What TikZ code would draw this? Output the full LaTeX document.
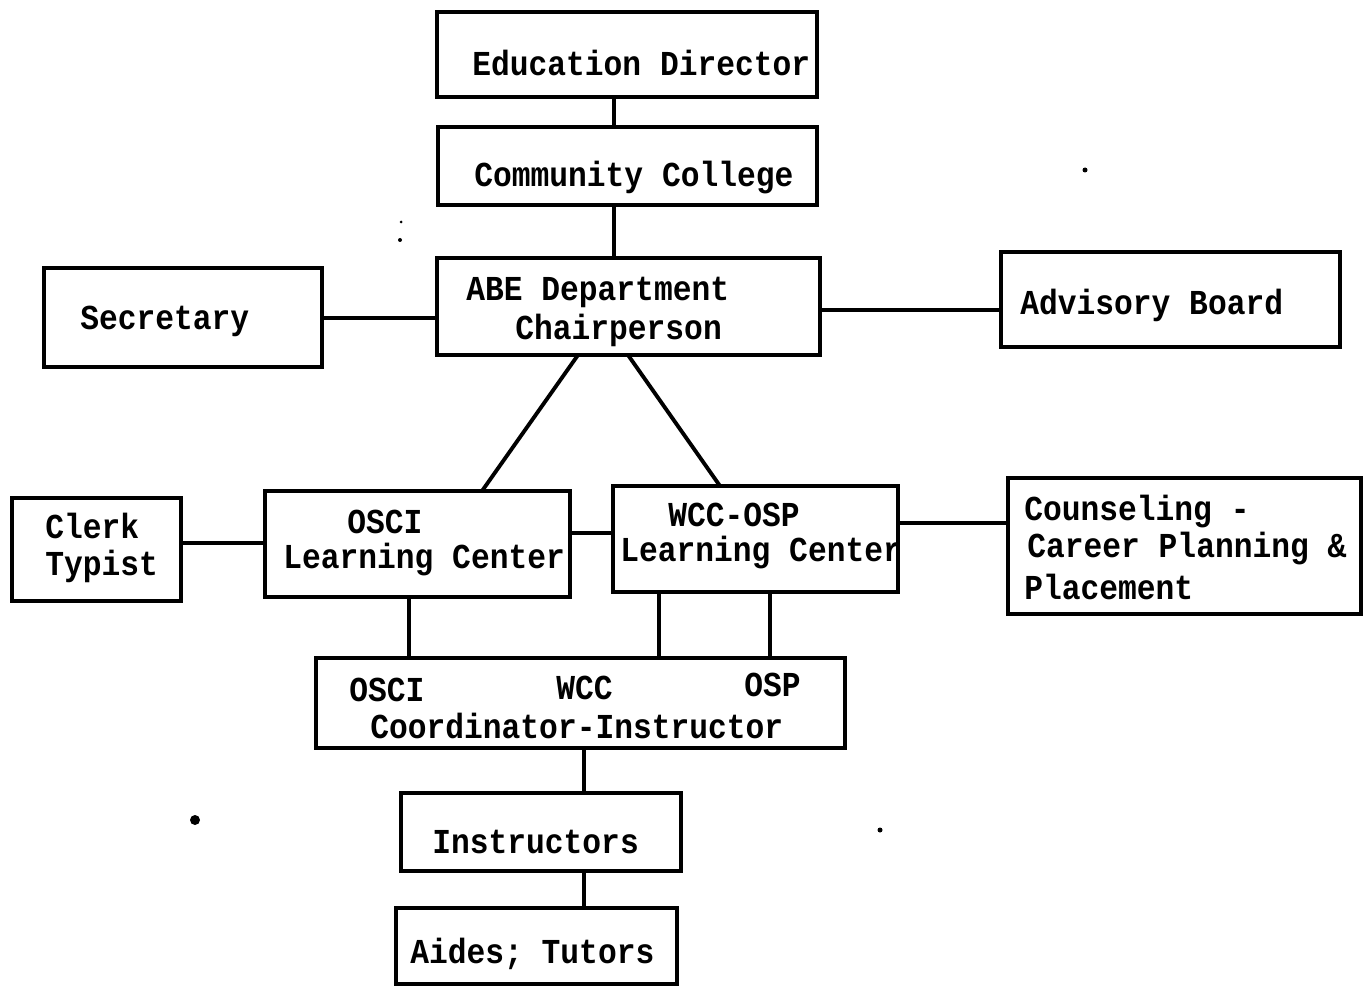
\documentclass[tikz,border=0pt]{standalone}
\usepackage{fontspec}
\usepackage{graphicx}
\setmonofont{Liberation Mono}
\usetikzlibrary{fit}
\newcommand{\tallT}[1]{\scalebox{1}[1.12]{#1}}
\begin{document}
\begin{tikzpicture}[x=0.02cm,y=-0.02cm,
  box/.style={draw, line width=2.2pt, inner sep=0pt},
  txt/.style={anchor=west, inner sep=0pt, font=\ttfamily\bfseries\fontsize{17.8}{20}\selectfont},
  link/.style={line width=2.2pt},
  speck/.style={fill=black, draw=none}]
\useasboundingbox (0,0) rectangle (1364,986);
% boxes
\node[box, fit={(437,12) (817,97)}] (ed) {};
\node[box, fit={(438,127) (817,205)}] (cc) {};
\node[box, fit={(437,258) (820,355)}] (abe) {};
\node[box, fit={(44,268) (322,367)}] (sec) {};
\node[box, fit={(1001,252) (1340,347)}] (adv) {};
\node[box, fit={(12,498) (181,601)}] (clerk) {};
\node[box, fit={(265,491) (570,597)}] (osci) {};
\node[box, fit={(613,486) (898,592)}] (wcc) {};
\node[box, fit={(1008,478) (1361,614)}] (couns) {};
\node[box, fit={(316,658) (845,748)}] (coord) {};
\node[box, fit={(401,793) (681,871)}] (instr) {};
\node[box, fit={(396,908) (677,984)}] (aides) {};
% texts
\node[txt] (edT) at (472,63) {\tallT{Education Director}};
\node[txt] (ccT) at (474,178) {\tallT{Community College}};
\node[txt] (abeT1) at (466,292) {\tallT{ABE Department}};
\node[txt] (abeT2) at (515,330) {\tallT{Chairperson}};
\node[txt] (secT) at (80,321) {\tallT{Secretary}};
\node[txt] (advT) at (1020,305) {\tallT{Advisory Board}};
\node[txt] (clerkT1) at (45,526) {\tallT{Clerk}};
\node[txt] (clerkT2) at (45,566) {\tallT{Typist}};
\node[txt] (osciT1) at (347,522) {\tallT{OSCI}};
\node[txt] (osciT2) at (283,560) {\tallT{Learning Center}};
\node[txt] (wccT1) at (668,515) {\tallT{WCC-OSP}};
\node[txt] (wccT2) at (620,553) {\tallT{Learning Center}};
\node[txt] (counsT1) at (1024,512) {\tallT{Counseling -}};
\node[txt] (counsT2) at (1027,549) {\tallT{Career Planning \&}};
\node[txt] (counsT3) at (1024,587) {\tallT{Placement}};
\node[txt] (coordT1) at (349,690) {\tallT{OSCI}};
\node[txt] (coordT2) at (556,688) {\tallT{WCC}};
\node[txt] (coordT3) at (744,685) {\tallT{OSP}};
\node[txt] (coordT4) at (370,726) {\tallT{Coordinator-Instructor}};
\node[txt] (instrT) at (432,842) {\tallT{Instructors}};
\node[txt] (aidesT) at (410,954) {\tallT{Aides; Tutors}};
% connectors
\coordinate (x614) at (614,0);
\coordinate (x584) at (584,0);
\coordinate (x409) at (409,0);
\coordinate (x659) at (659,0);
\coordinate (x770) at (770,0);
\coordinate (y318) at (0,318);
\coordinate (y310) at (0,310);
\coordinate (y543) at (0,543);
\coordinate (y533) at (0,533);
\coordinate (y523) at (0,523);
\draw[link] (ed.south -| x614) -- (cc.north -| x614);
\draw[link] (cc.south -| x614) -- (abe.north -| x614);
\draw[link] (sec.east |- y318) -- (abe.west |- y318);
\draw[link] (abe.east |- y310) -- (adv.west |- y310);
\coordinate (abeL) at (578,355);
\coordinate (abeR) at (628,355);
\coordinate (osciTop) at (482,491);
\coordinate (wccTop) at (720,486);
\draw[link] (abeL) -- (osciTop);
\draw[link] (abeR) -- (wccTop);
\draw[link] (clerk.east |- y543) -- (osci.west |- y543);
\draw[link] (osci.east |- y533) -- (wcc.west |- y533);
\draw[link] (wcc.east |- y523) -- (couns.west |- y523);
\draw[link] (osci.south -| x409) -- (coord.north -| x409);
\draw[link] (wcc.south -| x659) -- (coord.north -| x659);
\draw[link] (wcc.south -| x770) -- (coord.north -| x770);
\draw[link] (coord.south -| x584) -- (instr.north -| x584);
\draw[link] (instr.south -| x584) -- (aides.north -| x584);
% specks
\fill[speck] (195,820) circle (5);
\fill[speck] (1085,170) circle (2.5);
\fill[speck] (880,830) circle (2.5);
\fill[speck] (400,240) circle (2);
\fill[speck] (401,222) circle (1.5);
\end{tikzpicture}
\end{document}
